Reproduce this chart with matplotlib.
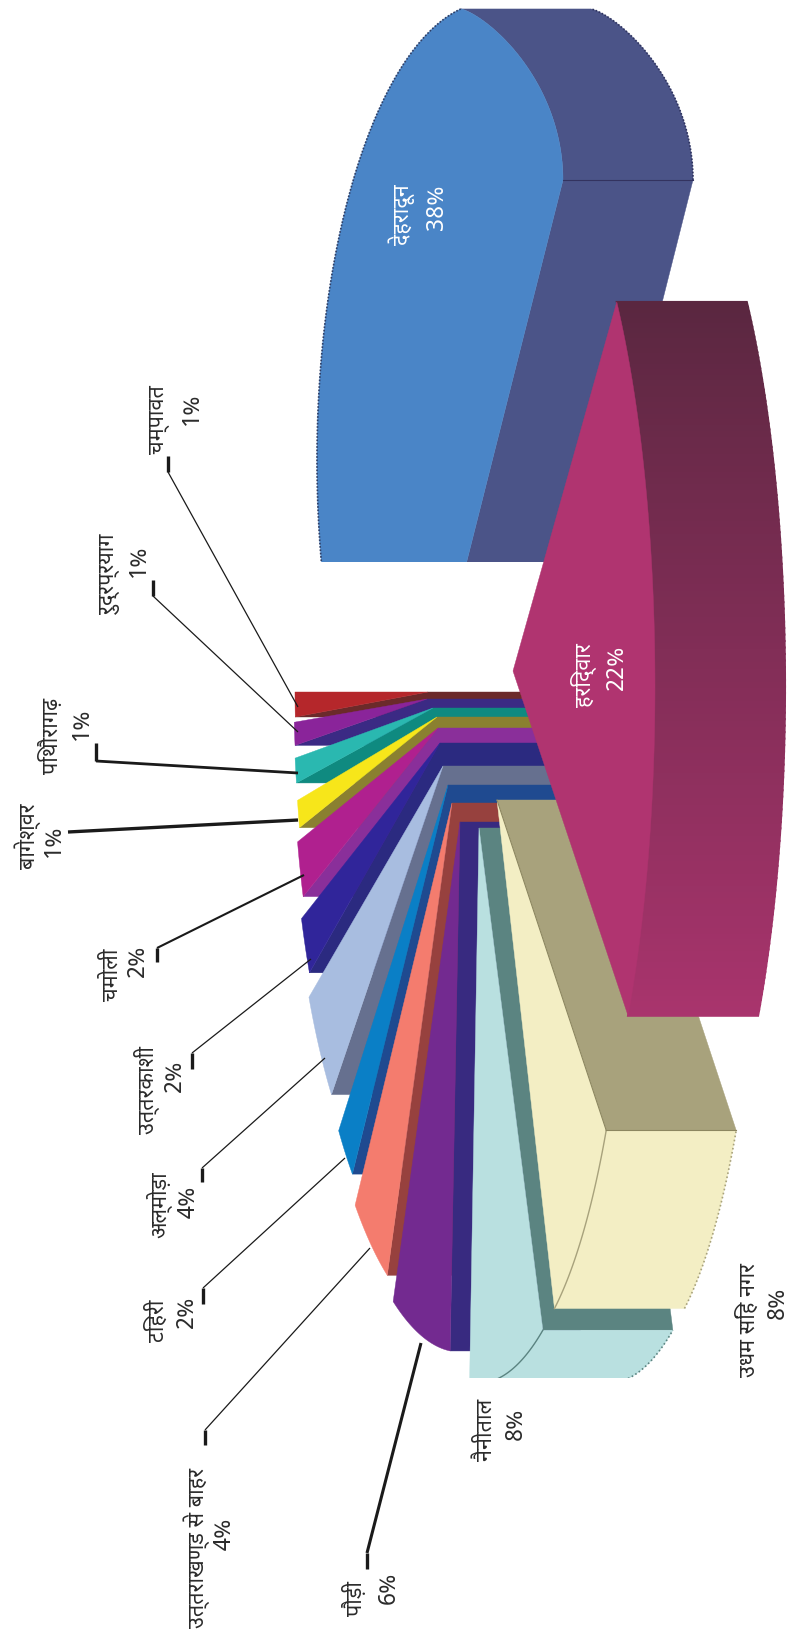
import numpy as np
import matplotlib
matplotlib.use("Agg")
from matplotlib import pyplot as plt
from matplotlib.patches import Polygon, Rectangle
import logging

logging.getLogger("matplotlib.font_manager").setLevel(logging.ERROR)

districts = ["चम्पावत", "रुद्रप्रयाग", "पिथौरागढ़", "बागेश्वर", "चमोली", "उत्तरकाशी", "अल्मोड़ा",
             "टिहरी", "उत्तराखण्ड से बाहर", "पौड़ी", "नैनीताल", "उधम सिंह नगर", "हरिद्वार", "देहरादून"]
shares = [1, 1, 1, 1, 2, 2, 4, 2, 4, 6, 8, 8, 22, 38]

top_colors = ["#b5272b", "#8a249a", "#2ab8b0", "#f7e61a", "#b0208f", "#30259a", "#a8bde0",
              "#0a7fc6", "#f47c6e", "#732a90", "#b9e0e0", "#f3eec4", "#b03470", "#4a85c7"]
side_colors = ["#6b2a2a", "#3b2a84", "#0f8a80", "#8a8030", "#8a2f9a", "#2b2a80", "#66708f",
               "#1f4a90", "#97413e", "#382a80", "#5b8481", "#a8a27c", "#7a2c50", "#4b5488"]

# pie geometry, pixels of the rotated sheet
apex_x = [428, 427, 433, 437, 438, 440, 443, 448, 452, 460, 479, 497, 513, 563]
apex_y = [692, 699, 708, 717, 728, 743, 766, 785, 803, 822, 828, 800, 671, 180]
rim_cx = list(apex_x)
rim_cy = list(apex_y)
rim_cx[12], rim_cy[12] = 514, 686
rim_cx[13], rim_cy[13] = 491, 460
radius_x = [133, 133, 139, 142, 145, 149, 153, 150, 152, 157, 150, 135, 141, 174]
radius_y = [398, 370, 400, 445, 458, 477, 480, 505, 522, 530, 555, 562, 561, 458]
turn = [0] * 13 + [56.8]
depth = 130
clip_bottom = {10: 1378, 13: 562}

# label placement: name centre, percent centre
name_x = [158, 108, 49, 26, 110, 145, 157, 155, 195, 353, 484, 746, 582, 400]
name_y = [420, 574, 736, 836, 975, 1090, 1205, 1321, 1548, 1599, 1430, 1320, 675, 215]
pct_x = [190, 137, 80, 52, 136, 173, 187, 185, 223, 387, 514, 776, 615, 435]
pct_y = [409, 561, 724, 841, 961, 1076, 1202, 1312, 1534, 1588, 1424, 1303, 667, 207]
white_labels = [12, 13]

# leader lines: tick bar top/bottom on x, then line end on the pie
tick_x = [168, 153, 96, None, 157, 192, 202, 203, 205, 367]
tick_y0 = [456, 580, 743, None, 948, 1053, 1168, 1288, 1430, 1553]
tick_y1 = [472, 596, 761, None, 962, 1069, 1182, 1304, 1445, 1569]
line_x0 = [168, 153, 96, 68, 157, 192, 202, 203, 205, 367]
line_y0 = [472, 596, 761, 832, 948, 1053, 1168, 1288, 1430, 1553]
line_x1 = [298, 298, 298, 298, 304, 311, 325, 345, 370, 421]
line_y1 = [707, 732, 773, 820, 875, 959, 1058, 1158, 1248, 1343]
line_w = [0.9, 0.9, 2.0, 2.4, 1.5, 0.9, 0.9, 0.9, 0.9, 2.2]

hindi_font = ["Noto Sans Devanagari", "Hind", "Mukta", "Noto Sans", "DejaVu Sans"]

edges = np.concatenate([[0], np.cumsum(shares)]) * 3.6


def rim(i, theta):
    t = np.radians(np.asarray(theta) + turn[i])
    return np.column_stack([rim_cx[i] - radius_x[i] * np.cos(t),
                            rim_cy[i] + radius_y[i] * np.sin(t)])


def clip_below(artist, ax, i):
    if i in clip_bottom:
        artist.set_clip_path(Rectangle((0, 0), 788, clip_bottom[i], transform=ax.transData))


def add_face(ax, pts, color, i, lw=0.3):
    p = Polygon(pts, closed=True, facecolor=color, edgecolor=color, linewidth=lw)
    ax.add_patch(p)
    clip_below(p, ax, i)
    return p


def radial_edge(i, theta):
    a = np.array([apex_x[i], apex_y[i]], dtype=float)
    end = rim(i, [theta])[0]
    t = np.linspace(0, 1, 40)[:, None]
    return a + t * (end - a)


def round_edge(i, theta):
    # the back edge of the biggest slice is rounded, not straight
    a = np.array([apex_x[i], apex_y[i]], dtype=float)
    end = rim(i, [theta])[0]
    u = np.linspace(np.pi / 2, 0, 60)
    return np.column_stack([end[0] + (a[0] - end[0]) * np.sin(u) ** 1.5,
                            a[1] + (end[1] - a[1]) * np.cos(u)])


def draw_wedge(ax, i):
    start, stop = edges[i], edges[i + 1]
    arc = np.linspace(start, stop, 120)
    rim_pts = rim(i, arc)
    shift = np.array([depth, 0])

    # cut faces behind the top
    if i != 12:
        e = radial_edge(i, stop)
        add_face(ax, np.vstack([e, (e + shift)[::-1]]), side_colors[i], i)
    if i == 13:
        e = round_edge(i, start)
        add_face(ax, np.vstack([e, (e + shift)[::-1]]), side_colors[i], i)
        ax.plot([apex_x[i], apex_x[i] + depth], [apex_y[i], apex_y[i]], color="#33335f", lw=0.8)
        ax.plot((e + shift)[:, 0], (e + shift)[:, 1], color="#2f3460", lw=1.2, ls=(0, (1, 1)))

    # outer wall of the near wedges
    if i == 12:
        cols = np.linspace(0, 1, len(arc) - 1)
        lo = np.array(matplotlib.colors.to_rgb("#a9346d"))
        hi = np.array(matplotlib.colors.to_rgb("#5a2740"))
        for k in range(len(arc) - 1):
            seg = rim_pts[k:k + 2]
            add_face(ax, np.vstack([seg, (seg + shift)[::-1]]), lo + (hi - lo) * cols[k], i, lw=1.5)
    elif i in (10, 11):
        add_face(ax, np.vstack([rim_pts, (rim_pts + shift)[::-1]]), top_colors[i], i)

    # top surface
    if i == 13:
        top = np.vstack([e, rim_pts, [[apex_x[i], apex_y[i]]]])
    else:
        top = np.vstack([[[apex_x[i], apex_y[i]]], rim_pts])
    add_face(ax, top, top_colors[i], i)

    if i == 13:
        line = ax.plot(rim_pts[:, 0], rim_pts[:, 1], color="#2f3f66", lw=1.2, ls=(0, (1, 1)))[0]
        clip_below(line, ax, i)
    if i in (10, 11):
        line = ax.plot(rim_pts[:, 0], rim_pts[:, 1], color=side_colors[i], lw=1.0)[0]
        clip_below(line, ax, i)
        wall = rim_pts + shift
        line = ax.plot(wall[:, 0], wall[:, 1], color=side_colors[i], lw=1.2, ls=(0, (1, 1.5)))[0]
        clip_below(line, ax, i)
    if i == 11:
        ax.plot([apex_x[i], rim_pts[-1, 0]], [apex_y[i], rim_pts[-1, 1]], color="#8c8660", lw=0.8)
        ax.plot([rim_pts[-1, 0], rim_pts[-1, 0] + depth], [rim_pts[-1, 1]] * 2, color="#8c8660", lw=0.8)


fig = plt.figure(figsize=(7.88, 16.43), dpi=100)
ax = fig.add_axes([0, 0, 1, 1])
ax.set_xlim(0, 788)
ax.set_ylim(1643, 0)
ax.axis("off")

draw_wedge(ax, 13)
for i in range(13):
    draw_wedge(ax, i)

# leaders
for k in range(len(line_x0)):
    ax.plot([line_x0[k], line_x1[k]], [line_y0[k], line_y1[k]], color="#1a1a1a", lw=line_w[k],
            solid_capstyle="butt")
    if tick_x[k] is not None:
        ax.plot([tick_x[k], tick_x[k]], [tick_y0[k], tick_y1[k]], color="#1a1a1a", lw=2.4,
                solid_capstyle="butt")

# labels read bottom to top
for i, name in enumerate(districts):
    color = "white" if i in white_labels else "#2b2b2b"
    ax.text(name_x[i] + 2, name_y[i], name, rotation=90, ha="center", va="center",
            fontsize=15.5, color=color, family=hindi_font)
    ax.text(pct_x[i] + 2, pct_y[i], "{}%".format(shares[i]), rotation=90, ha="center", va="center",
            fontsize=17, color=color, family=hindi_font)

fig.savefig("out.png", dpi=100)
